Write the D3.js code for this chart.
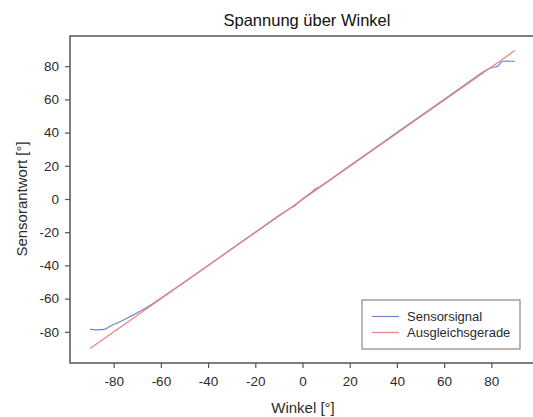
<!DOCTYPE html>
<html>
<head>
<meta charset="utf-8">
<script src="https://cdn.jsdelivr.net/npm/d3@7"></script>
<style>
  html, body { margin: 0; padding: 0; background: #fff; }
  svg { display: block; font-family: "Liberation Sans", Arial, sans-serif; }
</style>
</head>
<body>
<svg id="chart" width="533" height="417"></svg>
<script>
// Sensor signal (angle in degrees vs. sensor response)
const sensorAngle = [-90, -87, -84, -82.5, -81, -78, -75, -72, -69, -66, -63, -60, -50, -40, -30, -20, -10, -5, -3.5, -2, 0, 4, 5.5, 7, 10, 20, 30, 40, 50, 60, 70, 76, 78.5, 80.5, 82, 83, 84, 85, 86.5, 88, 90];
const sensorValue = [-78.6, -78.8, -78.6, -77.6, -76.2, -74.4, -72.3, -70.1, -67.8, -65.3, -62.6, -59.8, -50, -40, -30, -20, -10, -5.4, -4.4, -2.4, 0, 4.2, 6.2, 7.1, 10, 20, 30, 40, 50, 60, 70, 76, 78.2, 79.4, 79.6, 80.2, 82.2, 83, 83.1, 83, 83];
// Least-squares line
const fitAngle = [-90, 90];
const fitValue = [-90, 89.5];

const xTicks = [-80, -60, -40, -20, 0, 20, 40, 60, 80];
const yTicks = [-80, -60, -40, -20, 0, 20, 40, 60, 80];

const svg = d3.select("#chart");
const plotLeft = 70, plotRight = 535, plotTop = 36, plotBottom = 363;

const x = d3.scaleLinear().domain([-98.5, 98.5]).range([plotLeft, plotRight]);
const y = d3.scaleLinear().domain([-98.8, 98.2]).range([plotBottom, plotTop]);

const textColor = "#2b2b2b";
const axisColor = "#555";

// Title
svg.append("text").attr("x", 307).attr("y", 26).attr("text-anchor", "middle")
  .attr("font-size", 16.5).attr("fill", "#111").text("Spannung über Winkel");

// Plot frame
svg.append("rect").attr("x", plotLeft).attr("y", plotTop)
  .attr("width", plotRight - plotLeft).attr("height", plotBottom - plotTop)
  .attr("fill", "none").attr("stroke", axisColor).attr("stroke-width", 1.5);

// Axes (plain hyphen for negative labels)
const fmt = d => String(d);
const xAxis = d3.axisBottom(x).tickValues(xTicks).tickFormat(fmt).tickSize(5).tickSizeOuter(0).tickPadding(8);
const gx = svg.append("g").attr("transform", `translate(0,${plotBottom})`).call(xAxis);
const yAxis = d3.axisLeft(y).tickValues(yTicks).tickFormat(fmt).tickSize(5).tickSizeOuter(0).tickPadding(6);
const gy = svg.append("g").attr("transform", `translate(${plotLeft},0)`).call(yAxis);
[gx, gy].forEach(g => {
  g.select(".domain").remove();
  g.selectAll(".tick line").attr("stroke", axisColor).attr("stroke-width", 1.2);
  g.selectAll(".tick text").attr("fill", textColor).attr("font-size", 13.5)
    .attr("font-family", "Liberation Sans, Arial, sans-serif");
});

// Axis titles
svg.append("text").attr("x", 303).attr("y", 413).attr("text-anchor", "middle")
  .attr("font-size", 15).attr("fill", textColor).text("Winkel [°]");
svg.append("text").attr("transform", "translate(27,199) rotate(-90)")
  .attr("text-anchor", "middle").attr("font-size", 15).attr("fill", textColor)
  .text("Sensorantwort [°]");

const line = d3.line().x(d => x(d[0])).y(d => y(d[1]));
const blue = "#6f86c8", red = "#f07f82";

svg.append("path").datum(sensorAngle.map((a, i) => [a, sensorValue[i]]))
  .attr("d", line).attr("fill", "none").attr("stroke", blue).attr("stroke-width", 1.2);
svg.append("path").datum(fitAngle.map((a, i) => [a, fitValue[i]]))
  .attr("d", line).attr("fill", "none").attr("stroke", red).attr("stroke-width", 1.2);

// Legend
const lg = svg.append("g").attr("transform", "translate(362,300)");
lg.append("rect").attr("width", 158).attr("height", 49)
  .attr("fill", "#fff").attr("stroke", "#888").attr("stroke-width", 1.2);
const entries = [["Sensorsignal", blue], ["Ausgleichsgerade", red]];
entries.forEach(([label, color], i) => {
  const yy = 16.5 + i * 16;
  lg.append("line").attr("x1", 10).attr("x2", 37).attr("y1", yy).attr("y2", yy)
    .attr("stroke", color).attr("stroke-width", 1.2);
  lg.append("text").attr("x", 45).attr("y", yy + 4.5).attr("font-size", 13)
    .attr("fill", textColor).text(label);
});
</script>
</body>
</html>
